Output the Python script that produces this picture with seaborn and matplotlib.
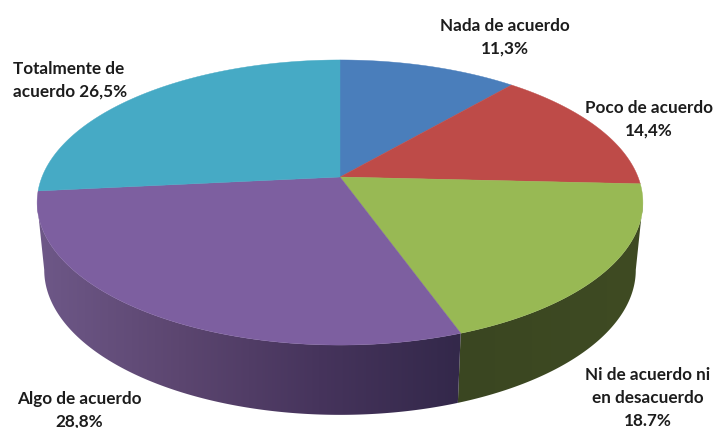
import numpy as np
import matplotlib
matplotlib.use("Agg")
import matplotlib.pyplot as plt
from matplotlib.patches import Polygon
import seaborn as sns

# datos del grafico
categorias = ["Nada de acuerdo", "Poco de acuerdo", "Ni de acuerdo ni en desacuerdo",
              "Algo de acuerdo", "Totalmente de acuerdo"]
valores = [11.3, 14.4, 18.7, 28.8, 26.5]
etiquetas = ["Nada de acuerdo\n11,3%", "Poco de acuerdo\n14,4%",
             "Ni de acuerdo ni\nen desacuerdo\n18.7%", "Algo de acuerdo\n28,8%",
             "Totalmente de\nacuerdo 26,5%"]
colores = ["#4a7ebb", "#be4b48", "#98b954", "#7d5fa0", "#46aac5"]
colores_lado = [None, None, ["#3a4621", "#3f4b23"], ["#6e5888", "#5c4670", "#46345c", "#33284a"], None]

sns.set_theme(style="white")
plt.rcParams["font.family"] = ["Lato", "DejaVu Sans"]
paleta = sns.color_palette(colores)

# perspectiva de la tarta: cara superior y borde inferior
CX = 340
K = 0.179


def cara_superior(t):
    u, v = np.sin(t), np.cos(t)
    d = 1 + K * v
    return CX + 298 * u / d, (-106.3 * v + 177) / d


def borde_inferior(t):
    u, v = np.sin(t), np.cos(t)
    d = 1 + K * v
    return CX + 291 * u / d, (-96.6 * v + 244) / d


fig = plt.figure(figsize=(7.16, 4.28), dpi=100)
ax = fig.add_axes([0, 0, 1, 1])

cortes = np.cumsum([0] + valores) / sum(valores) * 2 * np.pi
t_izq = 2 * np.pi - np.arccos(-K)
t_der = np.arccos(-K)

# lados (solo los que se ven de frente), degradado de izquierda a derecha
for i, lado in enumerate(colores_lado):
    if lado is None:
        continue
    ts = np.linspace(max(cortes[i], t_der), min(cortes[i + 1], t_izq), 200)
    x1, y1 = cara_superior(ts)
    x2, y2 = borde_inferior(ts[::-1])
    xs, ys = np.r_[x1, x2], np.r_[y1, y2]
    grad = np.array(sns.blend_palette(lado, 256))[None, :, :]
    img = ax.imshow(grad, extent=(xs.min(), xs.max(), ys.max(), ys.min()),
                    aspect="auto", interpolation="bilinear", zorder=1)
    borde = Polygon(np.c_[xs, ys], closed=True, transform=ax.transData, fc="none", ec="none")
    ax.add_patch(borde)
    img.set_clip_path(borde)

# cara superior
for i, color in enumerate(paleta):
    ts = np.linspace(cortes[i], cortes[i + 1], 120)
    x, y = cara_superior(ts)
    ax.fill(np.r_[CX, x], np.r_[177, y], color=color, lw=0.3, zorder=2)

# etiquetas
pos = [(505, 37, "center"), (649, 119, "center"), (648, 398, "center"),
       (79, 410, "center"), (13, 80, "left")]
for texto, (px, py, ali) in zip(etiquetas, pos):
    ax.text(px, py, texto, ha=ali, va="center", fontsize=12.3, fontweight="bold",
            color="#1c1c1c", linespacing=1.5, multialignment=ali, zorder=3)

ax.set_xlim(0, 716)
ax.set_ylim(428, 0)
ax.axis("off")

fig.savefig("out.png", dpi=100, facecolor="white")
